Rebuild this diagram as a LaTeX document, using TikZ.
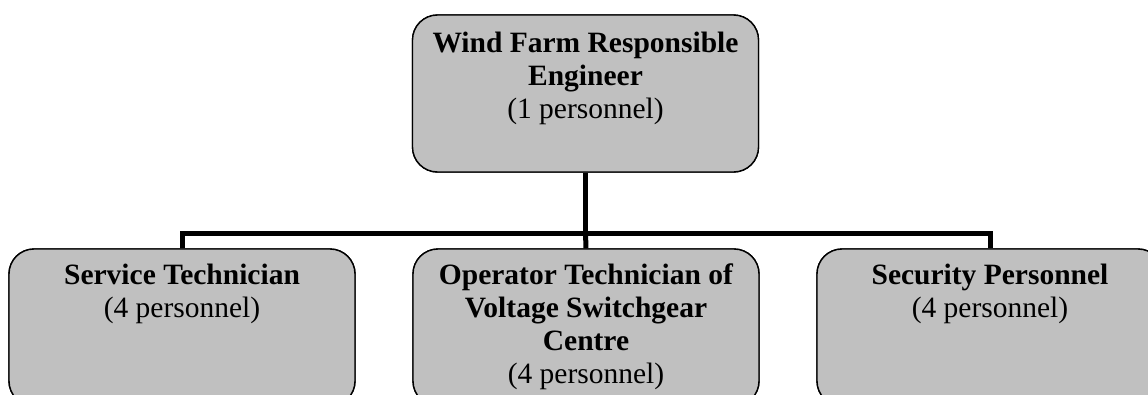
\documentclass[tikz,border=0pt]{standalone}
\usepackage{fontspec}
\setmainfont{Liberation Serif}
\begin{document}
\begin{tikzpicture}[x=1pt,y=-1pt,
  box/.style={draw=black, line width=1.4pt, fill={rgb,255:red,192;green,192;blue,192},
    rounded corners=25pt, minimum width=346pt, minimum height=157pt, inner sep=0pt},
  label text/.style={anchor=north, align=center, inner sep=0pt,
    font=\fontsize{29.5}{33}\selectfont},
  conn/.style={line width=5pt, line join=miter, line cap=butt}]
\useasboundingbox (0,0) rectangle (1148,394);
\clip (0,0) rectangle (1148,394);
% boxes (named, drawn later for layering)
\path (585.5,93.5) node[box] (top) {};
\path (182,327.5) node[box] (b1) {};
\path (586,327.5) node[box] (b2) {};
\path (990,327.5) node[box] (b3) {};
\coordinate (bus) at (585.5,233);
% connectors
\draw[conn] (top.south) -- (bus);
\draw[conn] (bus) -| (b1.north);
\draw[conn] (bus) -| (b3.north);
\draw[conn] (bus) -- (b2.north);
% redraw boxes on top
\path (585.5,93.5) node[box] {};
\path (182,327.5) node[box] {};
\path (586,327.5) node[box] {};
\path (990,327.5) node[box] {};
% texts
\node[label text] (t0) at (585.5,32) {\textbf{Wind Farm Responsible}\\\textbf{Engineer}\\(1 personnel)};
\node[label text] (t1) at (182,264) {\textbf{Service Technician}\\(4 personnel)};
\node[label text] (t2) at (586,264) {\textbf{Operator Technician of}\\\textbf{Voltage Switchgear}\\\textbf{Centre}\\(4 personnel)};
\node[label text] (t3) at (990,264) {\textbf{Security Personnel}\\(4 personnel)};
\end{tikzpicture}
\end{document}
